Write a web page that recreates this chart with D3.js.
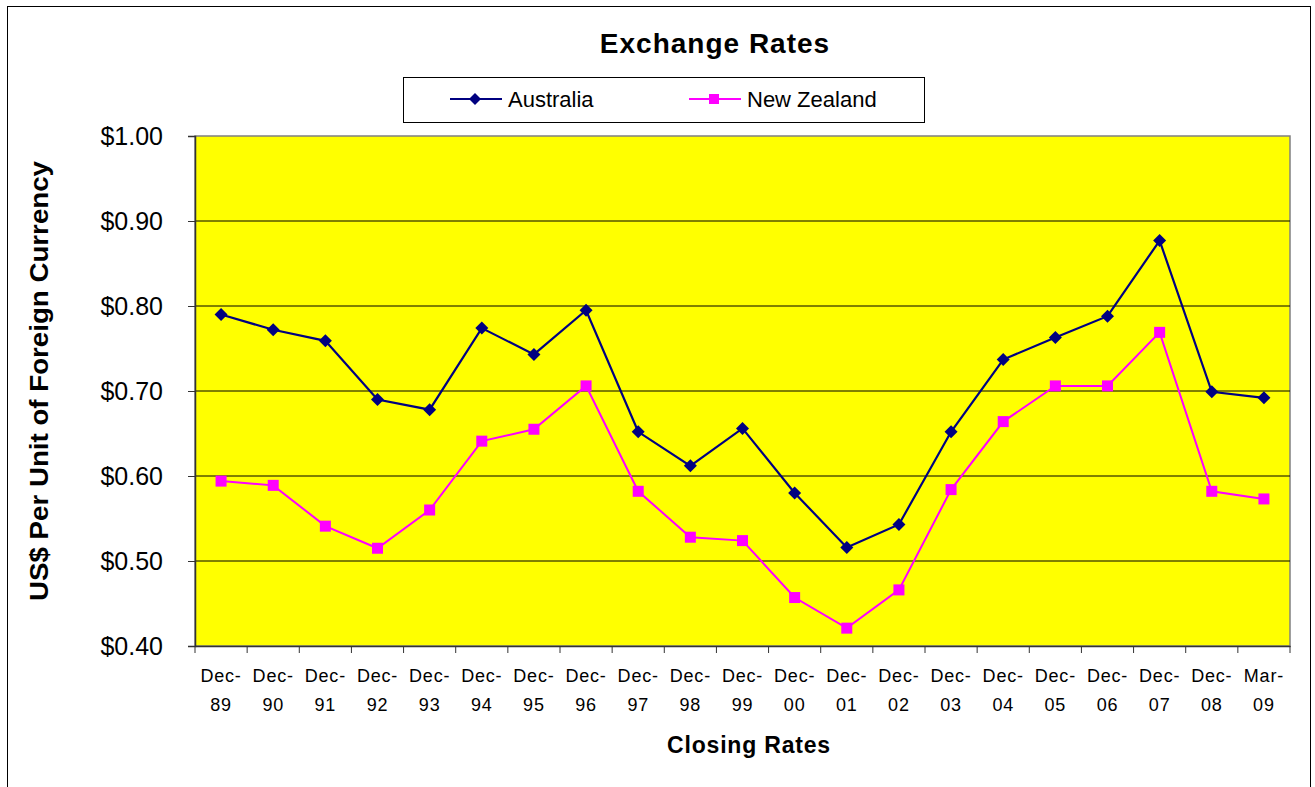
<!DOCTYPE html>
<html><head><meta charset="utf-8">
<script src="https://cdn.jsdelivr.net/npm/d3@7"></script>
<style>body{margin:0;background:#fff}svg{display:block}</style>
</head><body>
<svg id="c" width="1315" height="787"></svg>
<script>
const categories = ["Dec-89","Dec-90","Dec-91","Dec-92","Dec-93","Dec-94","Dec-95","Dec-96","Dec-97","Dec-98","Dec-99","Dec-00","Dec-01","Dec-02","Dec-03","Dec-04","Dec-05","Dec-06","Dec-07","Dec-08","Mar-09"];
const australia = [0.790,0.772,0.759,0.690,0.678,0.774,0.743,0.795,0.652,0.612,0.656,0.580,0.516,0.543,0.652,0.737,0.763,0.788,0.877,0.699,0.692];
const newZealand = [0.594,0.589,0.541,0.515,0.560,0.641,0.655,0.706,0.582,0.528,0.524,0.457,0.421,0.466,0.584,0.664,0.706,0.706,0.769,0.582,0.573];
const yTicks = [0.40,0.50,0.60,0.70,0.80,0.90,1.00];
const seriesNames = ["Australia","New Zealand"];
const seriesColors = ["#000080","#FF00FF"];

const FONT = "Liberation Sans, Arial, sans-serif";
const svg = d3.select("#c");
const L = 195, R = 1290, T = 136, B = 646;
const x = d3.scaleBand().domain(categories).range([L, R]);
const y = d3.scaleLinear().domain([0.4, 1.0]).range([B, T]);

// outer border
svg.append("rect").attr("x",7.5).attr("y",6.5).attr("width",1303).attr("height",800)
  .attr("fill","none").attr("stroke","#000").attr("stroke-width",1);

// plot area
svg.append("rect").attr("x",L).attr("y",T).attr("width",R-L).attr("height",B-T)
  .attr("fill","#FFFF00").attr("stroke","#808080").attr("stroke-width",1.5);

// gridlines
svg.append("g").selectAll("line").data(yTicks.filter(v=>v>0.41 && v<0.99)).join("line")
  .attr("x1",L).attr("x2",R).attr("y1",d=>y(d)).attr("y2",d=>y(d))
  .attr("stroke","#000").attr("stroke-width",1);

// y axis
const yAxis = svg.append("g").attr("transform",`translate(${L},0)`)
  .call(d3.axisLeft(y).tickValues(yTicks).tickSize(7).tickPadding(25).tickFormat(d=>"$"+d.toFixed(2)));
yAxis.select(".domain").attr("stroke","#333").attr("stroke-width",1.5);
yAxis.selectAll(".tick line").attr("stroke","#333");
yAxis.selectAll("text").attr("font-family",FONT).attr("font-size",25).attr("fill","#000");

// x axis
const xAxis = svg.append("g").attr("transform",`translate(0,${B})`)
  .call(d3.axisBottom(x).tickSize(0).tickFormat(""));
xAxis.select(".domain").attr("stroke","#333").attr("stroke-width",1.5);
const bounds = categories.map(c=>x(c)).concat([R]);
svg.append("g").selectAll("line").data(bounds).join("line")
  .attr("x1",d=>d).attr("x2",d=>d).attr("y1",B).attr("y2",B+7).attr("stroke","#333").attr("stroke-width",1);
const xl = svg.append("g").selectAll("text").data(categories).join("text")
  .attr("x",d=>x(d)+x.bandwidth()/2).attr("y",682)
  .attr("text-anchor","middle").attr("font-family",FONT).attr("font-size",18)
  .attr("letter-spacing",0.8).attr("fill","#000");
xl.append("tspan").attr("x",d=>x(d)+x.bandwidth()/2).text(d=>d.split("-")[0]+"-");
xl.append("tspan").attr("x",d=>x(d)+x.bandwidth()/2).attr("dy",29).text(d=>d.split("-")[1]);

// lines
const cx = d => x(d)+x.bandwidth()/2;
[australia,newZealand].forEach((vals,si)=>{
  const pts = vals.map((v,i)=>[cx(categories[i]), y(v)]);
  svg.append("path").attr("d",d3.line()(pts)).attr("fill","none")
    .attr("stroke",seriesColors[si]).attr("stroke-width",si===0?2.2:2);
});
// markers
svg.append("g").selectAll("path").data(australia).join("path")
  .attr("transform",(d,i)=>`translate(${cx(categories[i])},${y(d)})`)
  .attr("d","M0,-6.5L6.5,0L0,6.5L-6.5,0Z").attr("fill","#000080");
svg.append("g").selectAll("rect").data(newZealand).join("rect")
  .attr("x",(d,i)=>cx(categories[i])-5.5).attr("y",d=>y(d)-5.5)
  .attr("width",11).attr("height",11).attr("fill","#FF00FF");

// title
svg.append("text").attr("x",715).attr("y",53).attr("text-anchor","middle")
  .attr("font-family",FONT).attr("font-weight","bold").attr("font-size",28)
  .attr("letter-spacing",1).text("Exchange Rates");

// legend
svg.append("rect").attr("x",403.5).attr("y",77.5).attr("width",521).attr("height",45)
  .attr("fill","#fff").attr("stroke","#000").attr("stroke-width",1);
const legX = [450, 689];
seriesNames.forEach((n,i)=>{
  const g = svg.append("g").attr("transform",`translate(${legX[i]},99)`);
  g.append("line").attr("x1",0).attr("x2",52).attr("stroke",seriesColors[i]).attr("stroke-width",2);
  if(i===0) g.append("path").attr("transform","translate(25,0)").attr("d","M0,-6L6,0L0,6L-6,0Z").attr("fill",seriesColors[i]);
  else g.append("rect").attr("x",20).attr("y",-5).attr("width",10).attr("height",10).attr("fill",seriesColors[i]);
  g.append("text").attr("x",58).attr("y",8).attr("font-family",FONT)
    .attr("font-size",22).text(n);
});

// axis titles
svg.append("text").attr("transform","translate(48,381) rotate(-90)").attr("text-anchor","middle")
  .attr("font-family",FONT).attr("font-weight","bold")
  .attr("font-size",26).attr("textLength",440).attr("lengthAdjust","spacingAndGlyphs")
  .text("US$ Per Unit of Foreign Currency");
svg.append("text").attr("x",749).attr("y",753).attr("text-anchor","middle")
  .attr("font-family",FONT).attr("font-weight","bold").attr("font-size",23)
  .attr("letter-spacing",0.8).text("Closing Rates");
</script>
</body></html>
